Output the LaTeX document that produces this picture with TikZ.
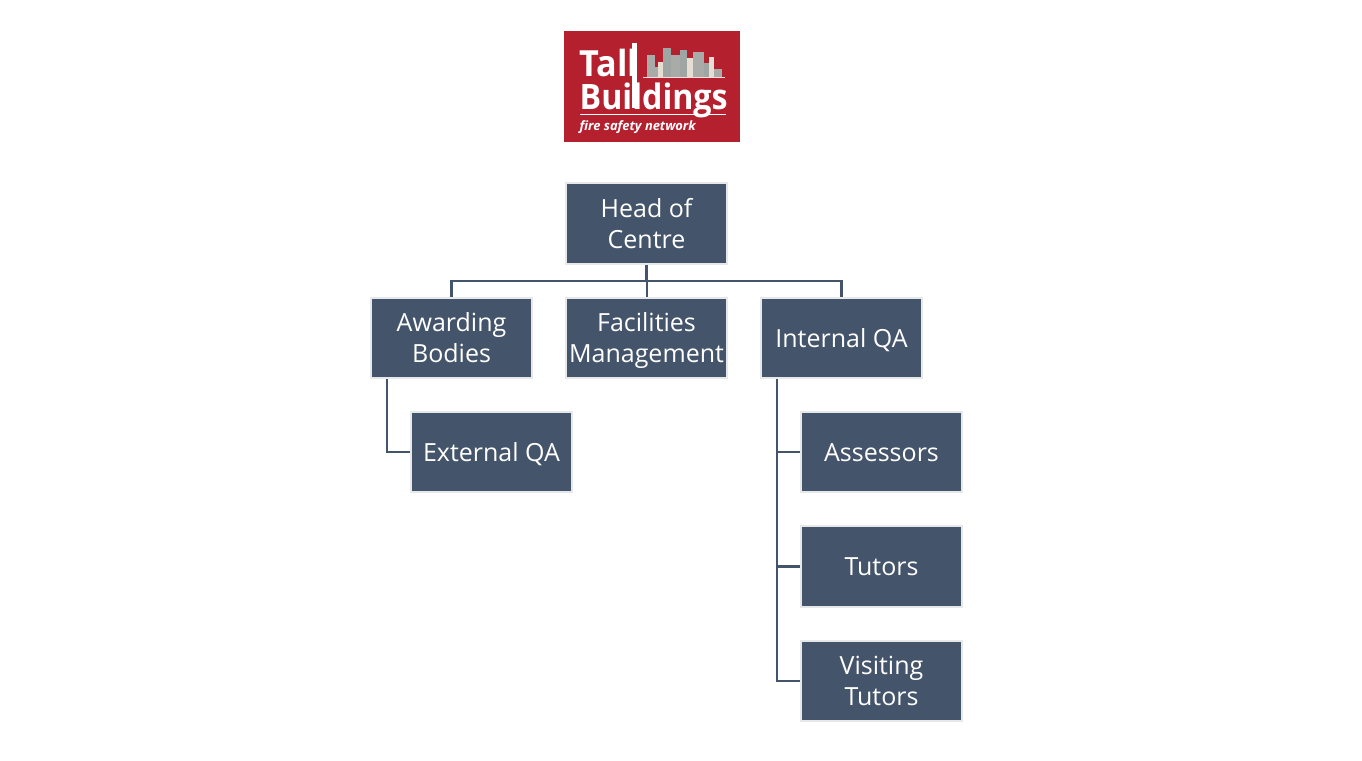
\documentclass[tikz,border=0pt]{standalone}
\usepackage{fontspec}
\setmainfont{Open Sans}
\newcommand{\boxstrut}{\rule[-6.3pt]{0pt}{31pt}}
\definecolor{slate}{HTML}{44546A}
\definecolor{edgec}{HTML}{E6E8EA}
\definecolor{logored}{HTML}{B5202F}
\definecolor{bargray}{HTML}{A9ABA8}
\definecolor{bardark}{HTML}{9FA5A3}
\definecolor{barpale}{HTML}{E6DDD3}
\tikzset{
  box/.style={draw=edgec,line width=2.4pt,fill=slate,text=white,minimum width=161pt,minimum height=80.5pt,inner sep=0pt,align=center,font=\fontsize{25}{31}\selectfont},
  link/.style={draw=slate,line width=2.7pt},
  logotext/.style={text=white,inner sep=0pt,font=\bfseries\fontsize{36}{36}\selectfont,anchor=base west},
}
\begin{document}
\begin{tikzpicture}[x=1pt,y=-1pt]
\useasboundingbox (0,0) rectangle (1362,760);
\fill[white] (0,0) rectangle (1362,760);
% logo
\fill[logored] (564,31) rectangle (740,142);
\begin{scope}[shift={(555,20)},x=0.3333pt,y=-0.3333pt]
\foreach \a/\b/\t in {275/300/105,300/312/140,312/325/125,347/375/105,415/447/95,477/500/147}
  \fill[bargray] (\a,\t) rectangle (\b,172);
\foreach \a/\b/\t in {325/347/85,375/395/90,447/462/130}
  \fill[bardark] (\a,\t) rectangle (\b,172);
\foreach \a/\b/\t in {310/325/125,395/415/115,462/477/110}
  \fill[barpale] (\a,\t) rectangle (\b,172);
\fill[white!85!logored] (265,171) rectangle (510,174);
\fill[white] (75,283) rectangle (512,286);
\end{scope}
\fill[white] (631.5,43) rectangle (636.5,108);
\node[logotext,xscale=0.95] (tal) at (579.5,77) {Tall};
\node[logotext,xscale=0.92,font=\bfseries\fontsize{35}{35}\selectfont] (bld) at (579.5,109.5) {Buildings};
\node[logotext,font=\bfseries\itshape\fontsize{12.9}{13}\selectfont] (net) at (579.5,130) {fire safety network};
% boxes
\node[box] (head) at (646.5,223.5) {\boxstrut Head of\\\boxstrut Centre};
\node[box] (award) at (451.5,338) {\boxstrut Awarding\\\boxstrut Bodies};
\node[box] (fac) at (646.5,338) {\boxstrut Facilities\\\boxstrut Management};
\node[box] (iqa) at (841.5,338) {\boxstrut Internal QA};
\node[box] (eqa) at (491.5,452) {\boxstrut External QA};
\node[box] (ass) at (881.5,452) {\boxstrut Assessors};
\node[box] (tut) at (881.5,566.5) {\boxstrut Tutors};
\node[box] (vis) at (881.5,681) {\boxstrut Visiting\\\boxstrut Tutors};
% connectors
\coordinate (bus) at (646.5,281);
\draw[link,line width=3pt] (head.south) -- (bus);
\draw[link] (award.north) |- (bus);
\draw[link] (iqa.north) |- (bus);
\draw[link,line width=2pt] (bus) -- (fac.north);
\draw[link] ([xshift=-64.5pt]award.south) |- (eqa.west);
\draw[link] ([xshift=-64.5pt]iqa.south) |- (vis.west);
\draw[link] ([xshift=-64.5pt]iqa.south |- ass.west) -- (ass.west);
\draw[link] ([xshift=-64.5pt]iqa.south |- tut.west) -- (tut.west);
\end{tikzpicture}
\end{document}
